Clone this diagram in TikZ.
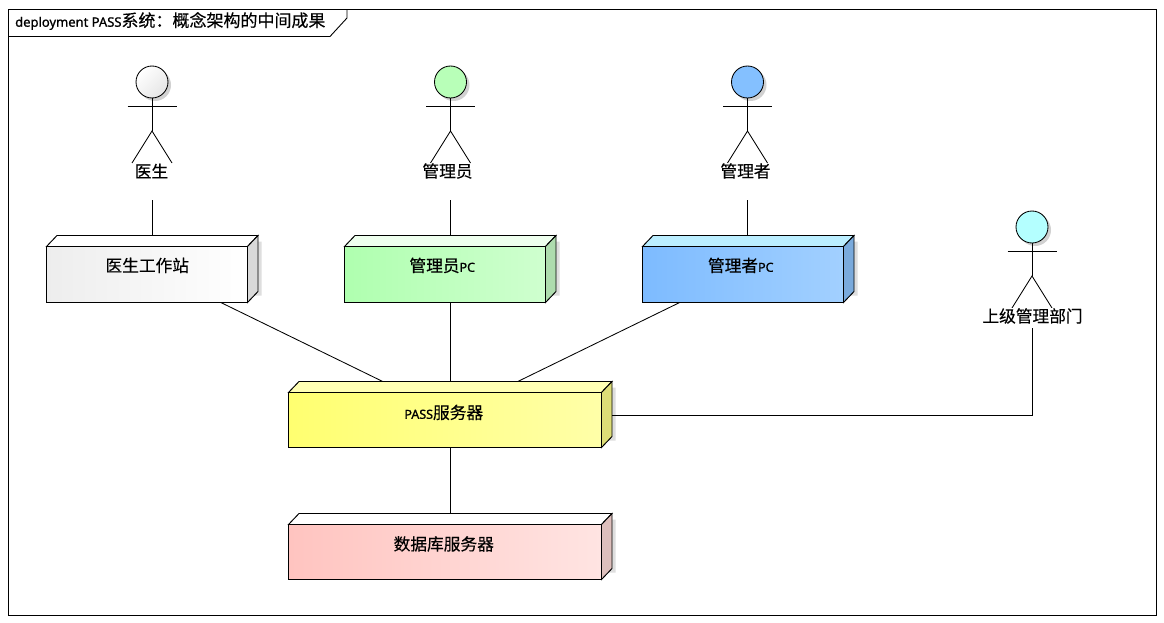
\documentclass[tikz,border=0pt]{standalone}
\usepackage{fontspec}
\setmainfont[FakeBold=0.3]{Noto Sans CJK SC}
\newfontfamily\latinf[FakeBold=1]{Noto Sans}
\newcommand{\lat}[1]{{\latinf\fontsize{12.5}{13}\selectfont #1}}
\usetikzlibrary{calc}
\tikzset{
  x=1pt,y=-1pt,
  edge/.style={draw=black,line width=0.85pt},
  boxface/.style={draw=black,line width=0.95pt,line join=miter},
  boxshadow/.style={fill=black!13,draw=none},
  anchorbox/.style={inner sep=0pt,outer sep=0pt,font=\fontsize{16.7}{18}\selectfont},
  actorlabel/.style={inner sep=0pt,outer sep=0pt,font=\fontsize{16.7}{18}\selectfont},
  invisible/.style={inner sep=0pt,outer sep=0pt,minimum width=50pt},
}
\newcommand{\depbox}[9]{%
  \pgfmathsetmacro{\bxr}{#4+10.5}\pgfmathsetmacro{\byt}{#3-11}%
  \pgfmathsetmacro{\byb}{#5-11}%
  \pgfmathsetmacro{\bcx}{(#2+\bxr)/2}\pgfmathsetmacro{\bcy}{(\byt+#5)/2}%
  \pgfmathsetmacro{\bw}{\bxr-#2}\pgfmathsetmacro{\bh}{#5-\byt}%
  \fill[boxshadow] (\bxr,\byt+6) -- (\bxr+3.5,\byt+6) -- (\bxr+3.5,\byb+4) -- (\bxr-4,\byb+4) -- (\bxr,\byb) -- cycle;
  \draw[boxface,fill=#8] (#2,#3) -- (#2+10.5,\byt) -- (\bxr,\byt) -- (#4,#3) -- cycle;
  \draw[boxface,fill=#9] (#4,#3) -- (\bxr,\byt) -- (\bxr,\byb) -- (#4,#5) -- cycle;
  \draw[boxface,left color=#6,right color=#7] (#2,#3) rectangle (#4,#5);
  \node[anchorbox,minimum width=\bw pt,minimum height=\bh pt] (#1) at (\bcx,\bcy) {\boxtext};
}
\newcommand{\actorfig}[6]{%
  \fill[black!18] (#2+3,#3+3) circle[radius=16];
  \draw[line width=0.85pt,#6] (#2,#3) circle[radius=16];
  \draw[edge] (#2,#3+16) -- (#2,#3+49);
  \draw[edge] (#2-24.5,#3+24.5) -- (#2+24.5,#3+24.5);
  \draw[edge] (#2-20,#3+81) -- (#2,#3+49) -- (#2+20,#3+81);
  \pgfmathsetmacro{\acy}{(#3-17+#5)/2}\pgfmathsetmacro{\ach}{#5-#3+17}%
  \node[invisible,minimum height=\ach pt] (#1) at (#2,\acy) {};
}
\begin{document}
\begin{tikzpicture}
\useasboundingbox (0,0) rectangle (1164,623);
\fill[white] (0,0) rectangle (1164,623);
\definecolor{acblue}{HTML}{84C0FF}\definecolor{accyan}{HTML}{B4FFFF}\definecolor{acgreen}{HTML}{B8FFB8}
\draw[line width=0.9pt] (8.5,9.5) rectangle (1156.5,615.5);
\draw[line width=0.9pt] (8.5,36.5) -- (330,36.5) -- (347,18) -- (347,9.5);
\node[anchor=west,inner sep=0pt,font=\fontsize{17}{18}\selectfont] (title) at (15,21)
  {{\latinf\fontsize{13}{14}\selectfont deployment PASS}系统：概念架构的中间成果};
\actorfig{a1}{152}{82}{171}{200}{top color=white,bottom color=black!10,shading angle=45}
\node[actorlabel] (a1t) at (151.5,171) {医生};
\actorfig{a2}{450.5}{82}{171}{200}{fill=acgreen}
\node[actorlabel] (a2t) at (447.5,171) {管理员};
\actorfig{a3}{747.5}{82}{171}{200}{fill=acblue}
\node[actorlabel] (a3t) at (745.5,171) {管理者};
\actorfig{a4}{1032}{227}{316}{328}{fill=accyan}
\node[actorlabel,fill=white,inner xsep=1pt] (a4t) at (1032.5,316) {上级管理部门};
\definecolor{greena}{HTML}{AFFFAF}\definecolor{greenb}{HTML}{CFFFCF}\definecolor{greent}{HTML}{EEFFEE}\definecolor{greens}{HTML}{AEDCAE}
\def\boxtext{\raisebox{8.5pt}{\makebox[0pt]{\kern-10pt 医生工作站}}}
\depbox{b1}{46.5}{246.5}{247.5}{302.5}{black!7}{white}{white}{black!15}
\def\boxtext{\raisebox{8.5pt}{\makebox[0pt]{\kern-16pt 管理员\lat{PC}}}}
\depbox{b2}{344.5}{246.5}{545.5}{302.5}{greena}{greenb}{greent}{greens}
\def\boxtext{\raisebox{8.5pt}{\makebox[0pt]{\kern-15pt 管理者\lat{PC}}}}
\definecolor{bluea}{HTML}{7DBBFF}\definecolor{blueb}{HTML}{A2D0FF}\definecolor{bluet}{HTML}{BBEEFF}\definecolor{blues}{HTML}{7AAADC}
\depbox{b3}{642.5}{246.5}{843.5}{302.5}{bluea}{blueb}{bluet}{blues}
\def\boxtext{\raisebox{5.5pt}{\makebox[0pt]{\kern-13pt \lat{PASS}服务器}}}
\definecolor{yela}{HTML}{FFFF70}\definecolor{yelb}{HTML}{FFFFA8}\definecolor{yelt}{HTML}{FFFFB4}\definecolor{yels}{HTML}{DDDD77}
\depbox{srv}{288.5}{392.5}{601.5}{447.5}{yela}{yelb}{yelt}{yels}
\def\boxtext{\raisebox{6.5pt}{\makebox[0pt]{\kern-13pt 数据库服务器}}}
\definecolor{pinka}{HTML}{FFC4C0}\definecolor{pinkb}{HTML}{FFE4E2}\definecolor{pinks}{HTML}{DDBFBC}
\depbox{db}{288.5}{524.5}{601.5}{579.5}{pinka}{pinkb}{white}{pinks}
\draw[edge] (a1.south) -- (a1.south |- b1.north);
\draw[edge] (a2.south) -- (a2.south |- b2.north);
\draw[edge] (a3.south) -- (a3.south |- b3.north);
\draw[edge] (b1) -- (srv);
\draw[edge] (b2) -- (srv);
\draw[edge] (b3) -- (srv);
\draw[edge] (srv) -- (db);
\draw[edge] (a4.south) |- ([yshift=-0.5pt]srv.east);
\end{tikzpicture}
\end{document}
